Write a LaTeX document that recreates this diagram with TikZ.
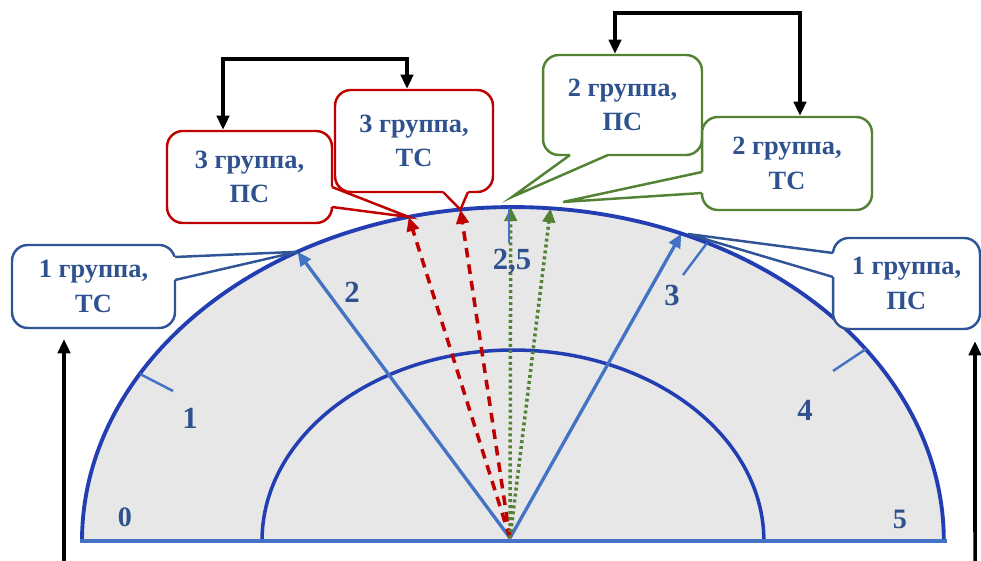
\documentclass[tikz,border=0pt]{standalone}
\usepackage{fontspec}
\setmainfont{Liberation Serif}
\usetikzlibrary{arrows.meta,calc}

\definecolor{txtblue}{RGB}{47,82,143}
\definecolor{arcblue}{RGB}{35,62,178}
\definecolor{lineblue}{RGB}{68,114,196}
\definecolor{boxblue}{RGB}{47,85,151}
\definecolor{boxred}{RGB}{192,0,0}
\definecolor{boxgreen}{RGB}{84,130,53}
\definecolor{sectorgray}{RGB}{231,231,231}

\tikzset{
  callout/.style={draw, fill=white, rounded corners=9pt, line width=1.4pt,
    align=center, inner sep=0pt, text=txtblue,
    font=\fontsize{15}{19.5}\selectfont\bfseries},
  numlabel/.style={text=txtblue, font=\fontsize{17.5}{17.5}\selectfont\bfseries},
  endlabel/.style={text=txtblue, font=\fontsize{16}{16}\selectfont\bfseries},
  radline/.style={lineblue, line width=1.9pt, -{Triangle[length=8pt,width=7pt]}},
  tickline/.style={lineblue, line width=1.4pt},
  reddash/.style={boxred, line width=2pt, dash pattern=on 5.5pt off 4pt,
    -{Triangle[length=8pt,width=7pt]}},
  greendot/.style={boxgreen, line width=2pt, dash pattern=on 1.7pt off 1.7pt,
    -{Triangle[length=8pt,width=7pt]}},
  linkarrow/.style={black, line width=2pt, -{Triangle[length=8pt,width=7pt]}}
}

\begin{document}
\begin{tikzpicture}[x=0.02cm,y=0.02cm]
\useasboundingbox (0,0) rectangle (981,561);

% sector
\coordinate (o) at (513,20);
\coordinate (v) at (510,23);
\fill[sectorgray] (82,20) arc[start angle=180,end angle=0,x radius=8.62cm,y radius=6.68cm] -- cycle;
\draw[arcblue,line width=2pt] (262,20) arc[start angle=180,end angle=0,x radius=5.02cm,y radius=3.82cm];

% points on the outer arc
\coordinate (p2) at ($(o)+(120:8.62cm and 6.68cm)$);
\coordinate (p3) at ($(o)+(67:8.62cm and 6.68cm)$);
\coordinate (r1) at ($(o)+(104:8.62cm and 6.68cm)$);
\coordinate (r2) at ($(o)+(97:8.62cm and 6.68cm)$);
\coordinate (g1) at ($(o)+(90.3:8.62cm and 6.68cm)$);
\coordinate (g2) at ($(o)+(85:8.62cm and 6.68cm)$);

% radii
\draw[radline] (v) -- (p2);
\draw[radline] (v) -- (p3);
\draw[reddash] (v) -- (r1);
\draw[reddash] (v) -- (r2);
\draw[greendot] (v) -- (g1);
\draw[greendot] (v) -- (g2);

% outer arc and base line
\draw[arcblue,line width=2.2pt] (82,20) arc[start angle=180,end angle=0,x radius=8.62cm,y radius=6.68cm];
\draw[lineblue,line width=2pt] (80,20) -- (947,20);

% scale marks
\node[endlabel] (l0) at (125,44) {0};
\node[numlabel] (l1) at (190,143) {1};
\node[numlabel] (l2) at (352,269) {2};
\node[numlabel] (l25) at (512,299) {2,5};
\node[numlabel] (l3) at (672,266) {3};
\node[numlabel] (l4) at (805,151) {4};
\node[endlabel] (l5) at (900,42) {5};
\draw[tickline] (140,187) -- (173,170);
\draw[tickline] (509,353) -- (509,318);
\draw[tickline] (707,318) -- (683,286);
\draw[tickline] (866,212) -- (833,190);

% group 1
\node[callout, draw=boxblue, minimum width=3.26cm, minimum height=1.66cm] (c1t) at (93.5,274.5) {1 группа,\\ТС};
\fill[white] (171,304) -- (175,304) -- (p2) -- (175,281) -- (171,281) -- cycle;
\draw[boxblue,line width=1.4pt] (175,304) -- (p2) -- (175,281);

\coordinate (q1) at (688,327);
\node[callout, draw=boxblue, minimum width=2.94cm, minimum height=1.82cm] (c1p) at (906.5,277.5) {1 группа,\\ПС};
\fill[white] (837,308) -- (833,308) -- (q1) -- (833,284) -- (837,284) -- cycle;
\draw[boxblue,line width=1.4pt] (833,308) -- (q1) -- (833,284);

% group 3
\node[callout, draw=boxred, minimum width=3.3cm, minimum height=1.84cm] (c3p) at (249.5,384) {3 группа,\\ПС};
\fill[white] (328,374) -- (332,374) -- (r1) -- (332,354) -- (328,354) -- cycle;
\draw[boxred,line width=1.4pt] (332,374) -- (r1) -- (332,354);

\node[callout, draw=boxred, minimum width=3.16cm, minimum height=2.04cm] (c3t) at (414,420) {3 группа,\\ТС};
\fill[white] (443,373) -- (443,369) -- (r2) -- (468,369) -- (468,373) -- cycle;
\draw[boxred,line width=1.4pt] (443,369) -- (r2) -- (468,369);

% group 2
\coordinate (q2) at (512,364);
\node[callout, draw=boxgreen, minimum width=3.18cm, minimum height=2cm] (c2p) at (622.5,456) {2 группа,\\ПС};
\fill[white] (570,410) -- (570,406) -- (q2) -- (608,406) -- (608,410) -- cycle;
\draw[boxgreen,line width=1.4pt] (570,406) -- (q2) -- (608,406);

\coordinate (q3) at (563,359);
\node[callout, draw=boxgreen, minimum width=3.4cm, minimum height=1.86cm] (c2t) at (787,397.5) {2 группа,\\ТС};
\fill[white] (706,389) -- (702,389) -- (q3) -- (702,368) -- (706,368) -- cycle;
\draw[boxgreen,line width=1.4pt] (702,389) -- (q3) -- (702,368);

% links between callouts
\draw[linkarrow, {Triangle[length=8pt,width=7pt]}-{Triangle[length=8pt,width=7pt]}]
  ([xshift=-0.53cm]c3p.north) -- ++(0,71) -| ([xshift=-0.14cm]c3t.north);
\draw[linkarrow, {Triangle[length=8pt,width=7pt]}-{Triangle[length=8pt,width=7pt]}]
  ([xshift=-0.15cm]c2p.north) -- ++(0,41) -| ([xshift=0.26cm]c2t.north);

% side arrows
\coordinate (b1) at (64,0);
\coordinate (b2) at (975,0);
\draw[linkarrow] (b1) -- ([xshift=-0.59cm,yshift=-0.2cm]c1t.south);
\draw[linkarrow] (b2) -- ([xshift=1.37cm,yshift=-0.22cm]c1p.south);
\end{tikzpicture}
\end{document}
